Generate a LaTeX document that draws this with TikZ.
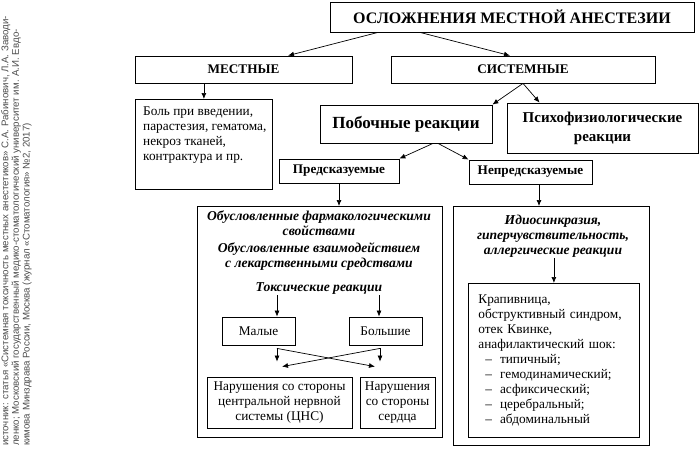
\documentclass[tikz,border=0pt]{standalone}
\usepackage{fontspec}
\setmainfont{Liberation Serif}
\newfontfamily\srcfont{Liberation Sans}
\usetikzlibrary{arrows.meta}

\begin{document}
\begin{tikzpicture}[x=1pt,y=-1pt,
  box/.style={draw, line width=0.8pt, inner sep=2pt},
  arr/.style={-{Latex[length=6pt,width=5pt]}, line width=0.7pt},
  lbl/.style={align=center, inner sep=1pt, font=\bfseries\itshape\fontsize{13.6}{15}\selectfont},
  head/.style={font=\bfseries\fontsize{13.2}{15}\selectfont},
  txt/.style={font=\fontsize{13.3}{15}\selectfont}]
\useasboundingbox (0,0) rectangle (700,448);

% source of the scheme
\node[rotate=90, anchor=north west, align=left, inner sep=0pt, text=black!70,
  font=\srcfont\fontsize{9.7}{10.6}\selectfont] (src) at (1,446)
  {источник: статья «Системная токсичность местных анестетиков» С.А. Рабинович, Л.А. Заводи-\\
   ленко; Московский государственный медико-стоматологический университет им. А.И. Евдо-\\
   кимова Минздрава России, Москва (журнал «Стоматология» №2, 2017)};

% top levels
\node[box, minimum width=364pt, minimum height=30pt, font=\bfseries\fontsize{16}{18}\selectfont] (osl) at (512,17) {ОСЛОЖНЕНИЯ МЕСТНОЙ АНЕСТЕЗИИ};
\node[box, head, minimum width=217pt, minimum height=27pt] (mest) at (243.5,69.5) {МЕСТНЫЕ};
\node[box, head, minimum width=264pt, minimum height=27pt] (sist) at (523,69.5) {СИСТЕМНЫЕ};
\draw[arr] ([xshift=-134pt]osl.south) -- ([xshift=44.5pt]mest.north);
\draw[arr] ([xshift=-92pt]osl.south) -- ([xshift=-13pt]sist.north);

% local
\node[box, anchor=north west, minimum width=137pt, minimum height=90pt] (bol) at (135,99) {};
\node[txt, anchor=north west, align=left, inner sep=0pt] (boltxt) at (143,107)
  {Боль при введении,\\парастезия, гематома,\\некроз тканей,\\контрактура и пр.};
\draw[arr] (mest.south -| bol.north) -- (bol.north);

% systemic
\node[box, minimum width=172pt, minimum height=38pt, font=\bfseries\fontsize{17}{19}\selectfont] (pob) at (406,124) {Побочные реакции};
\node[box, minimum width=191pt, minimum height=50pt, align=center, font=\bfseries\fontsize{15}{19}\selectfont] (psy) at (602.5,128) {Психофизиологические\\реакции};
\draw[arr] (sist.south) -- (pob.north east);
\draw[arr] (sist.south) -- ([xshift=33pt]psy.north west);

\node[box, head, minimum width=120pt, minimum height=24pt] (pred) at (339,171) {Предсказуемые};
\node[box, head, minimum width=123pt, minimum height=24pt] (nepred) at (530.5,172) {Непредсказуемые};
\draw[arr] ([xshift=27pt]pob.south) -- (pred.north east);
\draw[arr] ([xshift=32pt]pob.south) -- (nepred.north west);

% predictable
\node[box, anchor=north west, minimum width=245pt, minimum height=231pt] (lbox) at (197,206) {};
\draw[arr] (pred.south) -- (pred.south |- lbox.north);
\node[lbl] (farm) at (319,223) {Обусловленные фармакологическими\\свойствами};
\node[lbl] (vzaim) at (319,257) {Обусловленные взаимодействием\\с лекарственными средствами};
\node[lbl] (toks) at (319,288) {Токсические реакции};

\node[box, txt, minimum width=73pt, minimum height=28pt] (maly) at (258.5,331) {Малые};
\node[box, txt, minimum width=73pt, minimum height=28pt] (bolsh) at (385.5,331) {Большие};
\coordinate (mtop) at ([xshift=18.5pt]maly.north);
\coordinate (btop) at ([xshift=-6.5pt]bolsh.north);
\draw[arr] (mtop |- toks.south) -- (mtop);
\draw[arr] (btop |- toks.south) -- (btop);

\node[box, txt, minimum width=145pt, minimum height=51pt, align=center] (cns) at (279.5,402.5) {Нарушения со стороны\\центральной нервной\\системы (ЦНС)};
\node[box, txt, minimum width=75pt, minimum height=51pt, align=center] (serd) at (397.5,402.5) {Нарушения\\со стороны\\сердца};

% crossing arrows
\coordinate (ms) at ([xshift=18.5pt,yshift=-3pt]maly.south);
\coordinate (bs) at ([xshift=-5.5pt,yshift=-3pt]bolsh.south);
\coordinate (me) at ([xshift=-2.5pt,yshift=15pt]cns.north);
\coordinate (mx) at ([xshift=2.5pt,yshift=10pt]cns.north);
\coordinate (be) at ([xshift=-17.5pt,yshift=15pt]serd.north);
\coordinate (bx) at ([xshift=-22.5pt,yshift=10pt]serd.north);
\draw[arr] (ms) -- (me);
\draw[arr] (ms) -- (bx);
\draw[arr] (bs) -- (be);
\draw[arr] (bs) -- (mx);

% unpredictable
\node[box, anchor=north west, minimum width=196pt, minimum height=239pt] (rbox) at (453,206) {};
\coordinate (ntop) at ([xshift=8.5pt]nepred.south);
\draw[arr] (ntop) -- (ntop |- rbox.north);
\node[lbl] (idio) at (553,236) {Идиосинкразия,\\гиперчувствительность,\\аллергические реакции};
\node[box, txt, anchor=north west, minimum height=154pt, text width=151pt, inner xsep=10pt, align=left] (allerg) at (468,283)
  {Крапивница,\\обструктивный синдром,\\отек Квинке,\\анафилактический шок:\\
   \hspace*{7pt}–\hspace{8pt}типичный;\\
   \hspace*{7pt}–\hspace{8pt}гемодинамический;\\
   \hspace*{7pt}–\hspace{8pt}асфиксический;\\
   \hspace*{7pt}–\hspace{8pt}церебральный;\\
   \hspace*{7pt}–\hspace{8pt}абдоминальный};
\draw[arr] (idio.south -| allerg.north) -- (allerg.north);
\end{tikzpicture}
\end{document}
